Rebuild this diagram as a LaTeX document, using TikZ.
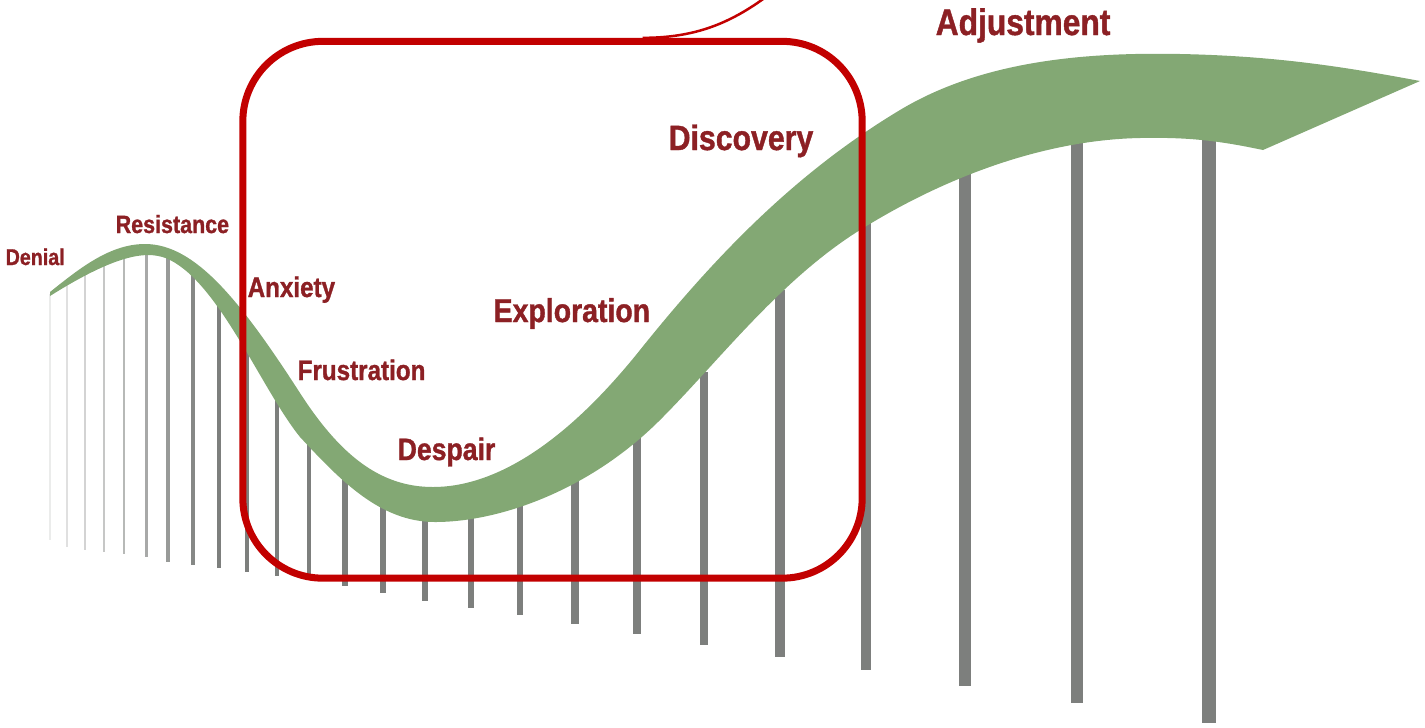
\documentclass[tikz,border=0pt]{standalone}
\usepackage{fontspec}
\usepackage{tikz}
\newfontfamily\stagefont{Liberation Sans}[FakeStretch=0.86,BoldFeatures={FakeBold=1.1}]

\definecolor{ribbonGreen}{RGB}{131,168,116}
\definecolor{poleGray}{RGB}{125,127,125}
\definecolor{stageRed}{RGB}{140,32,36}
\definecolor{boxRed}{RGB}{194,0,0}

\begin{document}
\begin{tikzpicture}[
			x=0.01cm, y=-0.01cm, % one unit = one pixel of the sketch, y downwards
			% Styles
			ribbon/.style={fill=ribbonGreen},
			pole/.style={draw=poleGray, line cap=butt},
			stage/.style={font=\stagefont\bfseries\fontsize{#1}{#1}\selectfont, text=stageRed, anchor=base west, inner sep=0pt},
			focusbox/.style={draw=boxRed, line width=0.07cm, rounded corners=0.8cm, minimum width=6.19cm, minimum height=5.365cm, inner sep=0pt},
			callout/.style={draw=boxRed, line width=0.025cm}
			]
			
			\useasboundingbox (0,0) rectangle (1425,727);
			
			% --- 1. Poles (thin and pale on the left, heavy on the right) ---
			\foreach \px/\ptop/\pbot in {50/294/540, 67/285/547, 85/274/550, 104/265/552, 124/257/554,
				146/252/557, 168/256/562, 193/275/565, 219/300/568, 247/338/572, 277/390/576,
				309/443/580, 345/477/586, 383/504/593, 425/515/601, 471/512/608, 520/500/615,
				575/480/624, 637/436/634, 704/372/645, 780/290/657, 866/220/670, 965/166/686,
				1077/140/703, 1209/140/723}{
				\pgfmathsetmacro\pw{2+0.0104*(\px-50)}
				\pgfmathtruncatemacro\ps{min(100,15+0.55*(\px-50))}
				\draw[pole, line width=\pw*0.01cm, draw=poleGray!\ps] (\px,\ptop) -- (\px,\pbot);
			}
			
			% --- 2. The change curve ---
			% upper edge, left to right
			\fill[ribbon] (50,292) .. controls (80,268) and (110,244) .. (145,244)
				.. controls (195,244) and (240,300) .. (300,393)
				.. controls (340,455) and (380,487) .. (433,487)
				.. controls (490,487) and (560,450) .. (640,350)
				.. controls (720,250) and (800,170) .. (900,110)
				.. controls (980,62) and (1080,52) .. (1180,54)
				.. controls (1280,56) and (1350,68) .. (1420,81)
				% tip, then lower edge back to the left
				-- (1263,150)
				.. controls (1220,141) and (1190,137) .. (1140,138)
				.. controls (1040,140) and (940,180) .. (860,230)
				.. controls (780,280) and (720,360) .. (660,420)
				.. controls (590,490) and (500,522) .. (435,522)
				.. controls (380,522) and (340,480) .. (300,437)
				.. controls (262,390) and (220,285) .. (170,260)
				.. controls (150,250) and (120,252) .. (50,296)
				-- cycle;
			
			% --- 3. Highlight frame with its callout line ---
			\node[focusbox] (frame) at (552.5,309.75) {};
			\coordinate (calloutend) at (790,-22);
			\draw[callout] ([xshift=0.9cm]frame.north) to[out=0, in=220] (calloutend);
			
			% --- 4. Stage labels ---
			\node[stage=6.5pt] (denial) at (5,265) {Denial};
			\node[stage=7.1pt] (resistance) at (115,233) {Resistance};
			\node[stage=8pt] (anxiety) at (247,297) {Anxiety};
			\node[stage=8pt] (frustration) at (297,380) {Frustration};
			\node[stage=8.8pt] (despair) at (397,460) {Despair};
			\node[stage=9.4pt] (exploration) at (493,322) {Exploration};
			\node[stage=10pt] (discovery) at (668,150) {Discovery};
			\node[stage=10.5pt] (adjustment) at (935,35) {Adjustment};
			
		\end{tikzpicture}
\end{document}
